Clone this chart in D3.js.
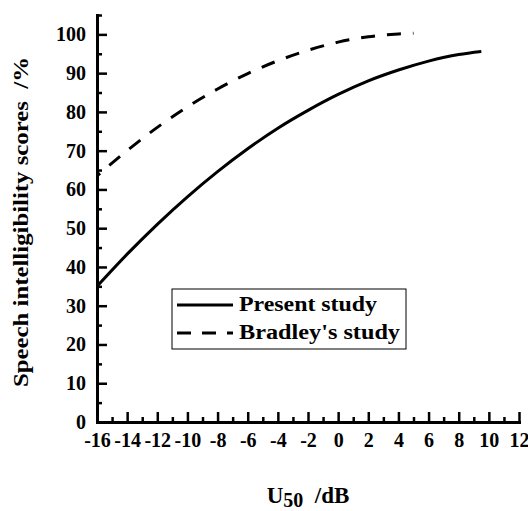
<!DOCTYPE html>
<html>
<head>
<meta charset="utf-8">
<script src="https://cdn.jsdelivr.net/npm/d3@7"></script>
<style>
  html, body { margin: 0; padding: 0; background: #fff; }
  svg text { font-family: "Liberation Serif", "Times New Roman", serif; font-weight: bold; fill: #000; }
</style>
</head>
<body>
<div id="app"></div>
<script>
// Curve values.
const presentU = [-16, -14, -12, -10, -8, -6, -4, -2, 0, 2, 4, 6, 8, 9.5];
const presentScores = [35.0, 43.3, 51.0, 58.1, 64.6, 70.5, 75.8, 80.4, 84.5, 88.0, 90.8, 93.1, 94.8, 95.6];
const bradleyU = [-16, -14, -12, -10, -8, -6, -4, -2, 0, 2, 4, 5];
const bradleyScores = [63.5, 70.0, 76.0, 81.3, 85.9, 89.9, 93.2, 95.9, 98.0, 99.4, 100.1, 100.3];

// Tick values
const xMajorTicks = [-16, -14, -12, -10, -8, -6, -4, -2, 0, 2, 4, 6, 8, 10, 12];
const xMinorTicks = [-15, -13, -11, -9, -7, -5, -3, -1, 1, 3, 5, 7, 9, 11];
const yMajorTicks = [0, 10, 20, 30, 40, 50, 60, 70, 80, 90, 100];
const yMinorTicks = [5, 15, 25, 35, 45, 55, 65, 75, 85, 95, 105];

const seriesNames = ['Present study', "Bradley's study"];
// measured widths of the legend labels in the reference (its font runs wide)
const legendTextWidths = [138, 161];

const svgWidth = 528;
const svgHeight = 511;
const margin = { top: 15, right: 9, bottom: 89, left: 97 };
const width = svgWidth - margin.left - margin.right;
const height = svgHeight - margin.top - margin.bottom;

const svg = d3
  .select('#app')
  .append('svg')
  .attr('width', svgWidth)
  .attr('height', svgHeight);

const chart = svg.append('g').attr('transform', `translate(${margin.left},${margin.top})`);

const x = d3.scaleLinear().domain([-16, 12]).range([0, width]);
const y = d3.scaleLinear().domain([0, 105]).range([height, 0]);

// axes: ticks point inward, minor ticks half length
const xAxis = chart.append('g').attr('transform', `translate(0,${height})`);
xAxis.call(
  d3.axisBottom(x).tickValues(xMajorTicks).tickSize(-10).tickSizeOuter(0).tickPadding(11)
    .tickFormat((d) => d)
);
xAxis.append('g').call(
  d3.axisBottom(x).tickValues(xMinorTicks).tickSize(-5).tickSizeOuter(0).tickFormat('')
).select('.domain').remove();

const yAxis = chart.append('g');
yAxis.call(
  d3.axisLeft(y).tickValues(yMajorTicks).tickSize(-10).tickSizeOuter(0).tickPadding(11)
);
yAxis.append('g').call(
  d3.axisLeft(y).tickValues(yMinorTicks).tickSize(-5).tickSizeOuter(0).tickFormat('')
).select('.domain').remove();

chart.selectAll('.domain').attr('stroke', '#000').attr('stroke-width', 3).attr('stroke-linecap', 'square');
chart.selectAll('.tick line').attr('stroke', '#000').attr('stroke-width', 2.5);
chart.selectAll('.tick text').attr('font-size', 20).attr('font-family', null);
xAxis.selectAll('.tick text').attr('dy', '0.7em');

// curves
const line = d3
  .line()
  .x((d) => x(d[0]))
  .y((d) => y(d[1]))
  .curve(d3.curveMonotoneX);

chart
  .append('path')
  .datum(presentU.map((u, i) => [u, presentScores[i]]))
  .attr('fill', 'none')
  .attr('stroke', '#000')
  .attr('stroke-width', 3)
  .attr('d', line);

chart
  .append('path')
  .datum(bradleyU.map((u, i) => [u, bradleyScores[i]]))
  .attr('fill', 'none')
  .attr('stroke', '#000')
  .attr('stroke-width', 3)
  .attr('stroke-dasharray', '14,12')
  .attr('stroke-dashoffset', 10)
  .attr('d', line);

// legend
const legend = svg.append('g').attr('transform', 'translate(172,289)');
legend
  .append('rect')
  .attr('width', 234)
  .attr('height', 60)
  .attr('fill', '#fff')
  .attr('stroke', '#000')
  .attr('stroke-width', 1);

seriesNames.forEach((name, i) => {
  const rowY = 16 + i * 28;
  legend
    .append('line')
    .attr('x1', 5)
    .attr('x2', 61)
    .attr('y1', rowY)
    .attr('y2', rowY)
    .attr('stroke', '#000')
    .attr('stroke-width', 3)
    .attr('stroke-dasharray', i === 1 ? '14,11' : null);
  legend
    .append('text')
    .attr('x', 67)
    .attr('y', rowY + 6)
    .attr('font-size', 20)
    .attr('textLength', legendTextWidths[i])
    .attr('lengthAdjust', 'spacingAndGlyphs')
    .text(name);
});

// axis titles
svg
  .append('text')
  .attr('transform', `translate(28,222) rotate(-90)`)
  .attr('text-anchor', 'middle')
  .attr('font-size', 20)
  .style('white-space', 'pre')
  .attr('textLength', 330)
  .attr('lengthAdjust', 'spacingAndGlyphs')
  .text('Speech intelligibility scores  /%');

const xTitle = svg
  .append('text')
  .attr('x', margin.left + width / 2)
  .attr('y', 503)
  .attr('text-anchor', 'middle')
  .attr('font-size', 23)
  .style('white-space', 'pre');
xTitle.append('tspan').text('U');
xTitle.append('tspan').attr('dy', 4).attr('font-size', 20).text('50');
xTitle.append('tspan').attr('dy', -4).text('  /dB');
</script>
</body>
</html>
